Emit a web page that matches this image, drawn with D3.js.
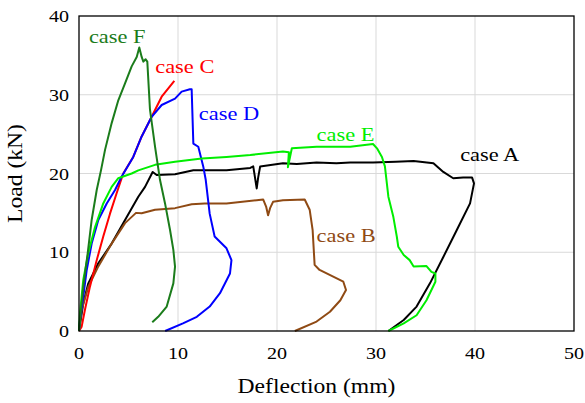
<!DOCTYPE html>
<html>
<head>
<meta charset="utf-8">
<script src="https://cdn.jsdelivr.net/npm/d3@7"></script>
<style>
  body { margin: 0; background: #fff; }
  text { font-family: "Liberation Serif", "Times New Roman", serif; }
</style>
</head>
<body>
<div id="chart"></div>
<script>
// deflection (mm), load (kN)
const caseA = [[0,0],[0.43,3.5],[0.94,6.05],[1.95,8.6],[3.3,11.1],[4.65,14.1],[5.99,17.05],[6.67,18.3],[7.44,20.2],[7.85,19.8],[9.7,19.9],[11.55,20.4],[12.7,20.4],[14.9,20.4],[16.5,20.6],[17.3,20.7],[17.6,20.9],[17.95,18.1],[18.1,19.5],[18.3,20.9],[20.6,21.3],[22,21.2],[24.0,21.4],[26,21.3],[27.4,21.4],[29.7,21.4],[32,21.5],[33.8,21.6],[35.8,21.3],[36.8,20.2],[37.8,19.4],[38.8,19.5],[39.7,19.5],[39.9,18.75],[39.5,16.2],[38.15,12.8],[36.8,9.4],[35.45,6.05],[34.1,3.1],[32.8,1.4],[31.25,0]]
const caseB = [[0,0],[0.27,2.7],[0.94,5.6],[1.95,8.2],[3.3,11.1],[4.65,13.7],[5.76,15.0],[6.33,14.95],[7.68,15.4],[9.7,15.6],[11.38,16.1],[12.7,16.2],[14.9,16.2],[17.95,16.6],[18.6,16.7],[18.9,15.8],[19.1,14.7],[19.3,15.6],[19.6,16.4],[20.6,16.6],[22.8,16.7],[23.3,15.4],[23.6,12.8],[23.8,8.4],[24.3,7.75],[26.7,6.26],[26.97,5.2],[26.4,3.9],[25.35,2.45],[24.0,1.2],[21.8,0]]
const caseC = [[0,0],[0.27,0.55],[0.6,2.7],[1.1,5.6],[1.79,9.0],[2.45,12.0],[3.13,14.9],[3.8,17.5],[4.47,20.0],[5.48,22.1],[6.33,24.7],[7.34,27.2],[8.35,29.75],[9.63,31.75]]
const caseD = [[0,0],[0.1,1.4],[0.43,4.35],[0.78,7.75],[1.28,11.1],[1.95,14.1],[2.8,16.2],[3.64,17.9],[4.3,19.6],[5.48,22.1],[6.33,24.7],[7.34,27.2],[8.35,28.7],[9.7,29.5],[10.37,30.4],[11.2,30.7],[11.38,30.7],[11.55,23.8],[12.05,23.4],[12.55,20.9],[12.8,19.2],[13.2,14.9],[13.7,12.0],[14.9,10.5],[15.4,9.0],[15.25,7.3],[14.24,4.8],[13.2,3.1],[11.9,1.8],[10.5,0.97],[8.7,0]]
const caseE = [[0,0],[0.1,2.3],[0.43,6.5],[0.94,9.9],[1.62,13.2],[2.45,16.2],[3.3,18.3],[3.97,19.4],[5.32,20.0],[5.99,20.4],[7.68,21.1],[9.7,21.5],[12.4,21.9],[14.9,22.1],[17.3,22.35],[20.6,22.8],[21.2,22.7],[21.1,20.8],[21.5,23.2],[24.0,23.4],[27.4,23.4],[29.7,23.75],[30.1,23.2],[30.6,22.1],[30.9,20.9],[31.25,17.05],[31.75,14.5],[32.1,12.0],[32.25,10.7],[32.8,9.65],[33.4,9.0],[33.8,8.2],[35.1,8.25],[35.6,7.5],[36.0,7.3],[36.0,6.26],[35.1,3.9],[34.1,2.0],[32.8,0.97],[31.25,0]]
const caseF = [[0,0],[0.1,1.4],[0.43,5.6],[0.88,9.9],[1.28,14.1],[1.79,17.9],[2.22,20.4],[2.63,23.0],[3.3,26.4],[3.97,29.3],[4.65,31.45],[5.32,33.6],[5.83,34.8],[6.09,36.0],[6.33,34.8],[6.5,34.2],[6.73,34.5],[6.9,34.2],[7.17,28.1],[7.68,23.4],[8.18,19.2],[8.69,16.2],[9.2,12.8],[9.53,10.3],[9.7,8.17],[9.53,6.05],[8.86,3.1],[8.0,1.8],[7.4,1.1]]

const seriesNames = ["case A", "case B", "case C", "case D", "case E", "case F"]
const seriesData = [caseA, caseB, caseC, caseD, caseE, caseF]
const seriesColors = ["#000000", "#8f4a14", "#ff0000", "#0000ff", "#00ee00", "#1b7c1b"]
// label anchor points in data units (deflection, load)
const labelPos = [[38.5, 21.6], [24.0, 11.3], [7.7, 32.7], [12.1, 26.8], [24.0, 24.1], [1.0, 36.6]]

const xTicks = [0, 10, 20, 30, 40, 50]
const yTicks = [0, 10, 20, 30, 40]

const margin = {top: 16, right: 11, bottom: 72, left: 79},
	W = 585, H = 403,
	w = W - margin.left - margin.right,
	h = H - margin.top - margin.bottom

const svg = d3.select("#chart")
	.append("svg")
	.attr("width", W)
	.attr("height", H)

const g = svg.append("g")
	.attr("transform", `translate(${margin.left},${margin.top})`)

const x = d3.scaleLinear().domain([0, 50]).range([0, w])
const y = d3.scaleLinear().domain([0, 40]).range([h, 0])

const sx = 1.18 // the source text is a bit wide

// grid
g.append("g")
	.selectAll("line")
	.data(xTicks.slice(1, -1))
	.enter().append("line")
	.attr("x1", d => x(d)).attr("x2", d => x(d))
	.attr("y1", 0).attr("y2", h)
	.attr("stroke", "#d9d9d9")
g.append("g")
	.selectAll("line")
	.data(yTicks.slice(1, -1))
	.enter().append("line")
	.attr("y1", d => y(d)).attr("y2", d => y(d))
	.attr("x1", 0).attr("x2", w)
	.attr("stroke", "#d9d9d9")

// curves
const line = d3.line()
	.curve(d3.curveLinear)
	.x(d => x(d[0]))
	.y(d => y(d[1]))

g.selectAll(".curve")
	.data(seriesData)
	.enter().append("path")
	.attr("class", "curve")
	.attr("d", line)
	.attr("fill", "none")
	.attr("stroke", (d, i) => seriesColors[i])
	.attr("stroke-width", 2)
	.attr("stroke-linejoin", "round")

// box
g.append("rect")
	.attr("width", w).attr("height", h)
	.attr("fill", "none")
	.attr("stroke", "#000")
	.attr("stroke-width", 1.3)

// tick labels
g.selectAll(".xt")
	.data(xTicks)
	.enter().append("text")
	.attr("class", "xt")
	.attr("transform", d => `translate(${x(d)},${h + 28}) scale(${sx},1)`)
	.attr("text-anchor", "middle")
	.attr("font-size", 17)
	.text(d => d)

g.selectAll(".yt")
	.data(yTicks)
	.enter().append("text")
	.attr("class", "yt")
	.attr("transform", d => `translate(-10,${y(d) + 6}) scale(${sx},1)`)
	.attr("text-anchor", "end")
	.attr("font-size", 17)
	.text(d => d)

// axis titles
svg.append("text")
	.attr("transform", `translate(${margin.left + w / 2 - 10},${H - 10}) scale(${sx},1)`)
	.attr("text-anchor", "middle")
	.attr("font-size", 20)
	.text("Deflection (mm)")

svg.append("text")
	.attr("transform", `translate(22,${margin.top + h / 2}) rotate(-90) scale(${sx},1)`)
	.attr("text-anchor", "middle")
	.attr("font-size", 20)
	.text("Load (kN)")

// series labels
g.selectAll(".lbl")
	.data(seriesNames)
	.enter().append("text")
	.attr("class", "lbl")
	.attr("transform", (d, i) => `translate(${x(labelPos[i][0])},${y(labelPos[i][1])}) scale(${sx},1)`)
	.attr("font-size", 19)
	.attr("fill", (d, i) => seriesColors[i])
	.text(d => d)
</script>
</body>
</html>
